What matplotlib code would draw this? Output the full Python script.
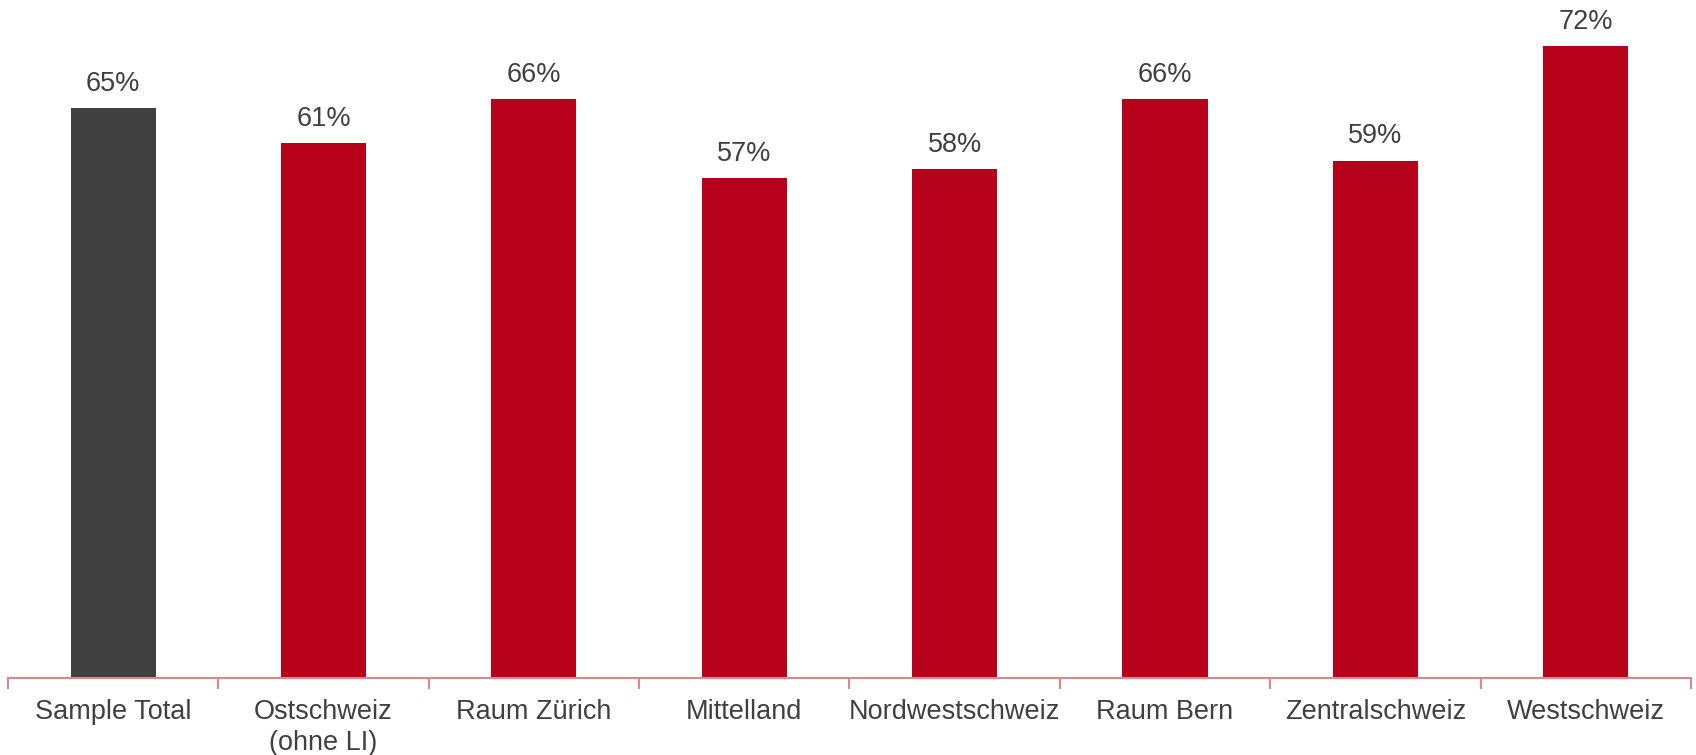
import matplotlib
matplotlib.use("Agg")
import numpy as np
import matplotlib.pyplot as plt

plt.rcParams['font.family'] = ['Liberation Sans', 'DejaVu Sans']

# regions and share in percent
regions = ["Sample Total", "Ostschweiz\n(ohne LI)", "Raum Zürich", "Mittelland",
           "Nordwestschweiz", "Raum Bern", "Zentralschweiz", "Westschweiz"]
values = [65, 61, 66, 57, 58, 66, 59, 72]
colors = ["#404040"] + ["#B70019"] * 7

text_col = "#404040"
axis_col = "#D9888E"

fig = plt.figure(figsize=(16.96, 7.55), dpi=100)
ax = fig.add_axes([0.0047, 0.102, 0.9923, 0.898])

x = np.arange(len(regions))
bars = ax.bar(x, values, width=0.405, color=colors)

for b, v in zip(bars, values):
    ax.annotate(f"{v}%", (b.get_x() + b.get_width() / 2, v),
                xytext=(0, 8), textcoords="offset points",
                ha="center", va="bottom", fontsize=19.5, color=text_col)

ax.set_xlim(-0.5, len(regions) - 0.5)
ax.set_ylim(0, 77.3)

for s in ["top", "right", "left"]:
    ax.spines[s].set_visible(False)
ax.spines["bottom"].set_color(axis_col)
ax.spines["bottom"].set_linewidth(1.5)
ax.set_yticks([])

ax.set_xticks(x)
ax.set_xticklabels(regions, fontsize=19.5, color=text_col, linespacing=1.25)
ax.tick_params(axis="x", which="major", length=0, pad=15)
ax.set_xticks(np.arange(-0.5, len(regions)), minor=True)
ax.tick_params(axis="x", which="minor", length=8, width=1.5, color=axis_col)

fig.savefig("out.png", dpi=100)
